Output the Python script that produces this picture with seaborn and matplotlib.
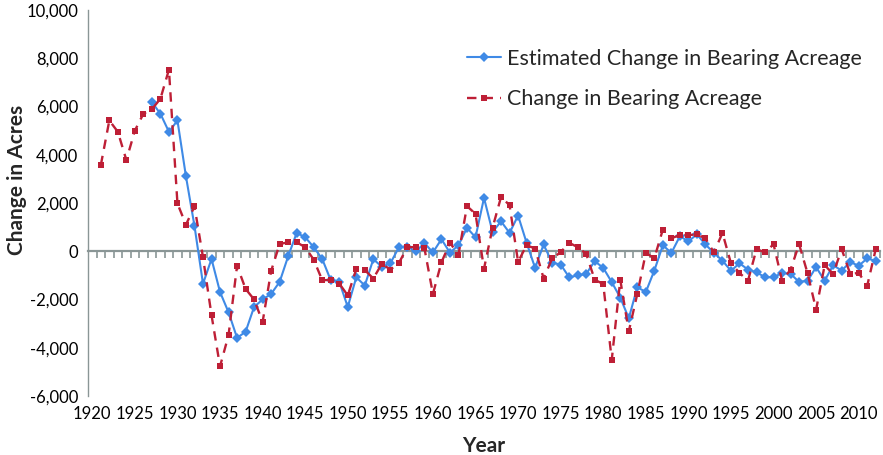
"""
Change in bearing acreage, observed vs estimated, 1920-2012.
"""

import numpy as np
import pandas as pd
import matplotlib
matplotlib.use("Agg")
import matplotlib.pyplot as plt
import seaborn as sns
from matplotlib.ticker import FuncFormatter, MultipleLocator

# observed change, 1921-2012
actual_years = np.arange(1921, 2013)
actual_change = [
    3570, 5420, 4950, 3780, 5000, 5700, 5890, 6320, 7530, 1980,    # 1921-1930
    1100, 1860, -250, -2650, -4770, -3480, -600, -1560, -2000, -2930,  # 1931-1940
    -820, 300, 370, 370, 170, -350, -1200, -1190, -1340, -1830,     # 1941-1950
    -740, -780, -1130, -520, -760, -490, 170, 170, 130, -1770,      # 1951-1960
    -460, 350, -140, 1870, 1550, -720, 970, 2250, 1910, -440,       # 1961-1970
    250, 110, -1130, -300, -40, 350, 170, -110, -1180, -1360,       # 1971-1980
    -4500, -1180, -3320, -1770, -70, -290, 900, 540, 670, 670,      # 1981-1990
    700, 530, -50, 760, -500, -900, -1220, 90, -50, 290,            # 1991-2000
    -1220, -760, 290, -920, -2420, -580, -940, 90, -940, -900,      # 2001-2010
    -1430, 90,                                                      # 2011-2012
]

# model estimate, 1927-2012
est_years = np.arange(1927, 2013)
est_change = [
    6180, 5700, 4950, 5420,                                         # 1927-1930
    3100, 1050, -1350, -320, -1690, -2530, -3590, -3340, -2310, -2000,  # 1931-1940
    -1770, -1270, -210, 760, 580, 170, -320, -1200, -1260, -2310,   # 1941-1950
    -1080, -1420, -330, -640, -500, 160, 190, -10, 340, -50,        # 1951-1960
    500, -60, 250, 970, 580, 2210, 800, 1240, 760, 1480,            # 1961-1970
    350, -690, 280, -480, -550, -1080, -1000, -940, -410, -690,     # 1971-1980
    -1280, -1920, -2780, -1490, -1690, -800, 250, -70, 620, 410,    # 1981-1990
    700, 280, -70, -390, -810, -500, -760, -870, -1080, -1080,      # 1991-2000
    -900, -940, -1270, -1220, -660, -1220, -580, -800, -450, -600,  # 2001-2010
    -300, -400,                                                     # 2011-2012
]

est_label = "Estimated Change in Bearing Acreage"
actual_label = "Change in Bearing Acreage"

BLUE = "#3f8ae6"
RED = "#be1f36"
GRAY = "#8a9696"

sns.set_style("white")
plt.rcParams["font.family"] = ["Lato", "DejaVu Sans"]

df_est = pd.DataFrame({"Year": est_years, "Change": est_change})
df_act = pd.DataFrame({"Year": actual_years, "Change": actual_change})

fig = plt.figure(figsize=(8.83, 4.55), dpi=100)
ax = fig.add_axes([0.0997, 0.1297, 0.8969, 0.8483])

sns.lineplot(data=df_est, x="Year", y="Change", ax=ax, color=BLUE, lw=1.5,
             marker="D", markersize=5.5, markeredgewidth=0, label=est_label)
sns.lineplot(data=df_act, x="Year", y="Change", ax=ax, color=RED, lw=1.7,
             linestyle=(0, (4, 3)), marker="s", markersize=4.3,
             markeredgewidth=0, label=actual_label)

ax.set_xlim(1919.5, 2012.5)
ax.set_ylim(-6000, 10000)
ax.yaxis.set_major_locator(MultipleLocator(2000))
ax.yaxis.set_major_formatter(FuncFormatter(lambda v, p: f"{int(v):,}"))
ax.set_xticks(np.arange(1920, 2011, 5))

for side in ["top", "right", "bottom"]:
    ax.spines[side].set_visible(False)
ax.spines["left"].set_color(GRAY)
ax.spines["left"].set_linewidth(1.0)
ax.tick_params(axis="y", direction="out", length=5, width=1, color=GRAY,
               labelsize=12, pad=2, labelcolor="black")
ax.tick_params(axis="x", length=0, labelsize=12, pad=7, labelcolor="black")

# category axis crossing at zero, tick marks between categories
zero_pos = (0 - (-6000)) / 16000
sec = ax.secondary_xaxis(zero_pos)
sec.set_xticks(np.arange(1920.5, 2013, 1.0))
sec.tick_params(direction="out", length=5, width=1.2, color=GRAY,
                labelbottom=False, labeltop=False)
sec.spines["bottom"].set_color(GRAY)
sec.spines["bottom"].set_linewidth(1.6)

ax.set_xlabel("Year", fontsize=15, fontweight="bold", labelpad=10)
ax.set_ylabel("Change in Acres", fontsize=15, fontweight="bold")
ax.yaxis.set_label_coords(-0.077, 0.56)

leg = ax.legend(loc="upper left", bbox_to_anchor=(0.478, 0.90), frameon=False,
                fontsize=15.5, handlelength=1.6, handletextpad=0.3,
                labelspacing=0.95, borderaxespad=0, borderpad=0)

fig.savefig("out.png", dpi=100)
